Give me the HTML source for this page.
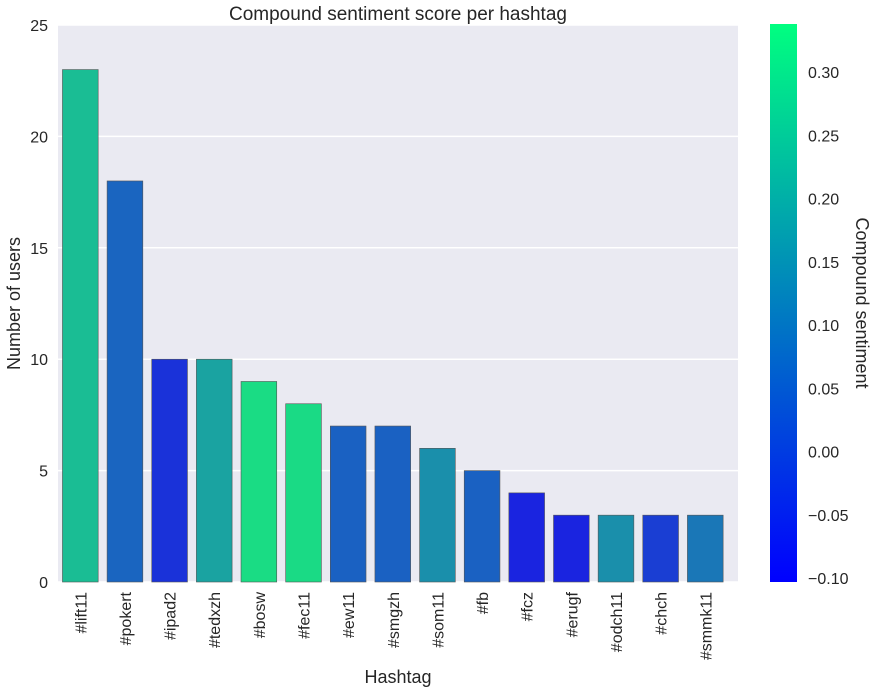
<!DOCTYPE html>
<html><head><meta charset="utf-8"><style>
body{margin:0;background:#fff;font-family:"Liberation Sans",sans-serif}
</style></head><body>
<svg id="c" width="876" height="692" style="font-family:'Liberation Sans',sans-serif"></svg>
<script>
const categories=["#lift11","#pokert","#ipad2","#tedxzh","#bosw","#fec11","#ew11","#smgzh","#som11","#fb","#fcz","#erugf","#odch11","#chch","#smmk11"];
const users=[23,18,10,10,9,8,7,7,6,5,4,3,3,3,3];
const sentiment=[0.250,0.060,-0.050,0.195,0.318,0.314,0.052,0.052,0.150,0.052,-0.080,-0.080,0.150,-0.025,0.100];
const yTicks=[0,5,10,15,20,25];
const cbTicks=[-0.10,-0.05,0.00,0.05,0.10,0.15,0.20,0.25,0.30];
const NS="http://www.w3.org/2000/svg";
const svg=document.getElementById('c');
const L=58,R=738,T=25,B=582,cmin=-0.103,cmax=0.338;
const y=v=>B-(v/25)*(B-T);
const slot=44.64;
const x=i=>L+slot*i;
function mk(tag,a,txt){const e=document.createElementNS(NS,tag);for(const k in a)e.setAttribute(k,a[k]);if(txt!=null)e.textContent=txt;svg.appendChild(e);return e;}
function col(v){let t=(v-cmin)/(cmax-cmin);t=Math.max(0,Math.min(1,t));const r=0,g=255*t,b=255-127.5*t;const d=c=>Math.round(127.5+(c-127.5)*0.8);return `rgb(${d(r)},${d(g)},${d(b)})`;}
let e=mk('rect',{x:L,y:T,width:R-L,height:B-T,fill:'#eaeaf2'});

yTicks.forEach(v=>{
 e=mk('line',{x1:L,x2:R,y1:y(v),y2:y(v),stroke:'#fff','stroke-width':1.5});
 
 e=mk('text',{x:L-10,y:y(v)+6,'text-anchor':'end','font-size':16,fill:'#262626'},v);
 
});
categories.forEach((c,i)=>{
 const bw=slot*0.8,bx=x(i)+slot*0.1;
 e=mk('rect',{x:bx,y:y(users[i]),width:bw,height:B-y(users[i]),fill:col(sentiment[i]),stroke:'#555','stroke-width':0.6});
 
 const cx=x(i)+slot/2;
 e=mk('text',{x:0,y:0,'text-anchor':'end','font-size':16,fill:'#262626',transform:`translate(${cx+6},${B+10}) rotate(-90)`},c);
 
});
e=mk('text',{x:(L+R)/2,y:20,'text-anchor':'middle','font-size':19,fill:'#262626'},'Compound sentiment score per hashtag');

e=mk('text',{x:(L+R)/2,y:683,'text-anchor':'middle','font-size':18,fill:'#262626'},'Hashtag');

e=mk('text',{x:0,y:0,'text-anchor':'middle','font-size':18,fill:'#262626',transform:`translate(20,${(T+B)/2}) rotate(-90)`},'Number of users');

const defs=mk('defs',{});
const g=document.createElementNS(NS,'linearGradient');g.setAttribute('id','gr');g.setAttribute('x1',0);g.setAttribute('y1',1);g.setAttribute('x2',0);g.setAttribute('y2',0);defs.appendChild(g);
[[0,'rgb(0,0,255)'],[1,'rgb(0,255,128)']].forEach(([o,c])=>{const s=document.createElementNS(NS,'stop');s.setAttribute('offset',o);s.setAttribute('stop-color',c);g.appendChild(s);});
const CX=770,CW=27,CT=24,CB=582;
const cy=v=>CB-(v-cmin)/(cmax-cmin)*(CB-CT);
e=mk('rect',{x:CX,y:CT,width:CW,height:CB-CT,fill:'url(#gr)'});

cbTicks.forEach(v=>{
 e=mk('text',{x:CX+CW+11,y:cy(v)+6,'font-size':16,fill:'#262626'},(v<0?'\u2212':'')+Math.abs(v).toFixed(2));
 
});
e=mk('text',{x:0,y:0,'text-anchor':'middle','font-size':18,fill:'#262626',transform:`translate(856,${(CT+CB)/2}) rotate(90)`},'Compound sentiment');

</script>
</body></html>
